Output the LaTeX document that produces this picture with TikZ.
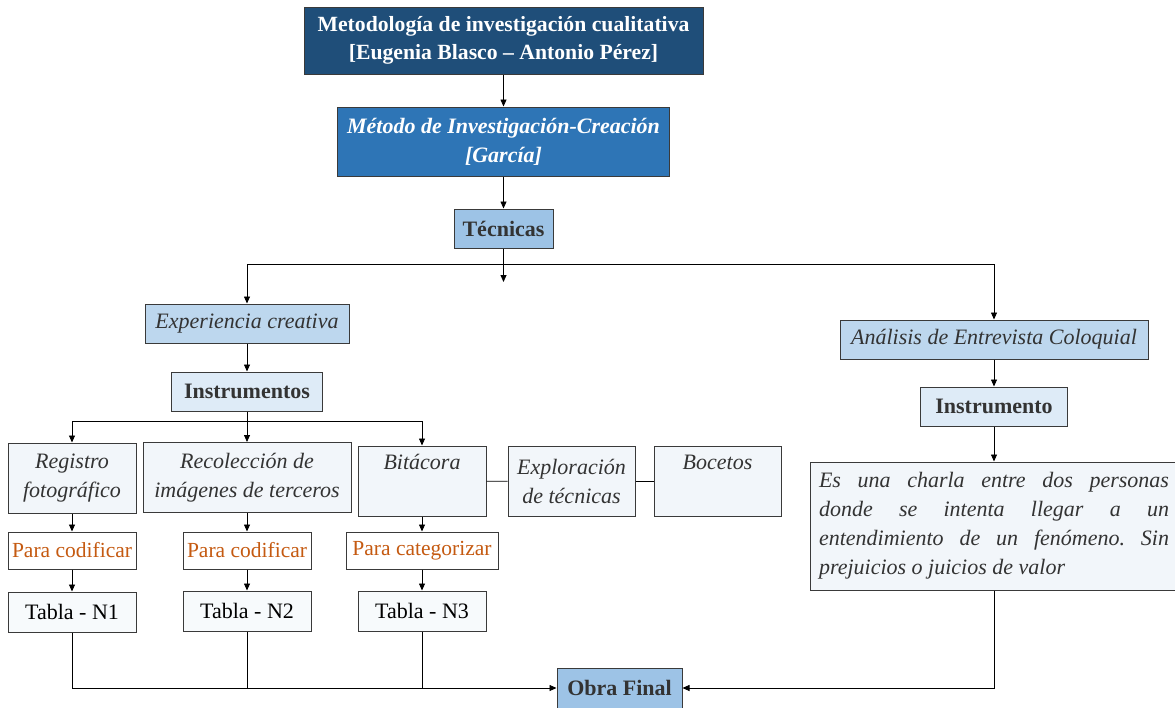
\documentclass[tikz,border=0pt]{standalone}
\usepackage{fontspec}
\setmainfont{Liberation Serif}
\usetikzlibrary{arrows.meta, positioning}

\definecolor{navyblue}{HTML}{1F4E79}
\definecolor{midblue}{HTML}{2E75B6}
\definecolor{skyblue}{HTML}{9DC3E6}
\definecolor{paleblue}{HTML}{BDD7EE}
\definecolor{icyblue}{HTML}{DEEBF7}
\definecolor{snowblue}{HTML}{F2F6FA}
\definecolor{tablewhite}{HTML}{F7FAFC}
\definecolor{rustorange}{HTML}{C55A11}
\definecolor{inkgray}{HTML}{333333}
\definecolor{edgegray}{HTML}{3A3A3A}

\frenchspacing

\begin{document}
\begin{tikzpicture}[->, >={Triangle[length=7pt, width=6pt]}, x=1pt, y=-1pt, line width=0.8pt,
    base node/.style={draw=edgegray, line width=1pt, inner sep=0pt, align=center, text=inkgray, font=\fontsize{22}{29}\selectfont},
    title node/.style={base node, fill=navyblue, text=white, font=\fontsize{21.7}{28}\selectfont\bfseries},
    method node/.style={base node, fill=midblue, text=white, font=\fontsize{22}{29}\selectfont\bfseries\itshape},
    key node/.style={base node, fill=skyblue, font=\fontsize{22}{29}\selectfont\bfseries, minimum height=39pt},
    branch node/.style={base node, fill=paleblue, font=\fontsize{22}{29}\selectfont\itshape, minimum height=39pt},
    tool node/.style={base node, fill=icyblue, font=\fontsize{22}{29}\selectfont\bfseries, minimum height=39pt},
    item node/.style={base node, fill=snowblue, font=\fontsize{22}{29}\selectfont\itshape, minimum height=70pt},
    code node/.style={base node, fill=white, text=rustorange, font=\fontsize{21.5}{28}\selectfont, minimum height=37pt},
    table node/.style={base node, fill=tablewhite, text=black, minimum width=128pt, minimum height=40pt}]

    \useasboundingbox (0,0) rectangle (1175,707);
    \clip (0,0) rectangle (1175,707);

    % Nodes
    \node[title node, minimum width=399pt, minimum height=67pt] (metodologia) at (503.5,40.5)
        {Metodología de investigación cualitativa\\{}[Eugenia Blasco – Antonio Pérez]};
    \node[method node, minimum width=332pt, minimum height=69pt] (metodo) at (503.5,141.5)
        {Método de Investigación-Creación\\{}[García]};
    \node[key node, minimum width=99pt] (tecnicas) at (503.5,228.5) {Técnicas};

    \node[branch node, minimum width=204pt] (experiencia) at (247,323.5) {Experiencia creativa};
    \node[tool node, minimum width=151pt] (instrumentos) at (247,391.5) {Instrumentos};

    \node[item node, minimum width=128pt] (registro) at (72,478) {Registro\\fotográfico};
    \node[item node, minimum width=208pt] (recoleccion) at (247,477.5) {Recolección de\\imágenes de terceros};
    \node[item node, minimum width=128pt] (bitacora) at (422,481) {Bitácora\\\strut};
    \node[item node, minimum width=127pt] (exploracion) at (571.5,481.5) {Exploración\\de técnicas};
    \node[item node, minimum width=127pt] (bocetos) at (717.5,481.5) {Bocetos\\\strut};

    \node[code node, minimum width=128pt] (codificar1) at (72,550.5) {Para codificar};
    \node[code node, minimum width=128pt] (codificar2) at (247,550.5) {Para codificar};
    \node[code node, minimum width=152pt] (categorizar) at (422,550.5) {Para categorizar};

    \node[table node] (tabla1) at (72,612) {Tabla - N1};
    \node[table node] (tabla2) at (247,611) {Tabla - N2};
    \node[table node] (tabla3) at (422,611) {Tabla - N3};

    \node[key node, minimum width=125pt, minimum height=40pt] (obra) at (619.5,688) {Obra Final};

    \node[branch node, minimum width=308pt] (analisis) at (994,339.5) {Análisis de Entrevista Coloquial};
    \node[tool node, minimum width=147pt] (instrumento) at (994,406.5) {Instrumento};
    \node[base node, fill=snowblue, font=\fontsize{22}{29}\selectfont\itshape, text width=350pt, align=justify,
        inner xsep=9pt, minimum height=128pt] (charla) at (994,526)
        {Es una charla entre dos personas\linebreak donde se intenta llegar a un\linebreak
         entendimiento de un fenómeno. Sin\linebreak prejuicios o juicios de valor};

    % Arrows between nodes
    \path (metodologia) edge (metodo);
    \path (metodo) edge (tecnicas);

    \coordinate (tecnicas end) at (503.5,282);
    \coordinate (split left) at (247,264);
    \coordinate (split right) at (994,264);
    \path (tecnicas) edge (tecnicas end);
    \draw[-] (split left) -- (split right);
    \draw (split left) -- (experiencia);
    \draw (split right) -- (analisis);

    \path (experiencia) edge (instrumentos);
    \coordinate (split tools) at (247,421);
    \draw[-] (instrumentos) -- (split tools);
    \draw[-] (registro.north |- split tools) -- (bitacora.north |- split tools);
    \draw (registro.north |- split tools) -- (registro);
    \draw (split tools) -- (recoleccion);
    \draw (bitacora.north |- split tools) -- (bitacora);

    \draw[-] (bitacora) -- (exploracion);
    \draw[-] (exploracion) -- (bocetos);

    \path (registro) edge (codificar1);
    \path (recoleccion) edge (codificar2);
    \path (bitacora) edge (categorizar);
    \path (codificar1) edge (tabla1);
    \path (codificar2) edge (tabla2);
    \path (categorizar) edge (tabla3);

    \draw (tabla1) |- (obra);
    \draw[-] (tabla2) -- (tabla2 |- obra);
    \draw[-] (tabla3) -- (tabla3 |- obra);

    \path (analisis) edge (instrumento);
    \path (instrumento) edge (charla);
    \draw (charla) |- (obra);

\end{tikzpicture}
\end{document}
